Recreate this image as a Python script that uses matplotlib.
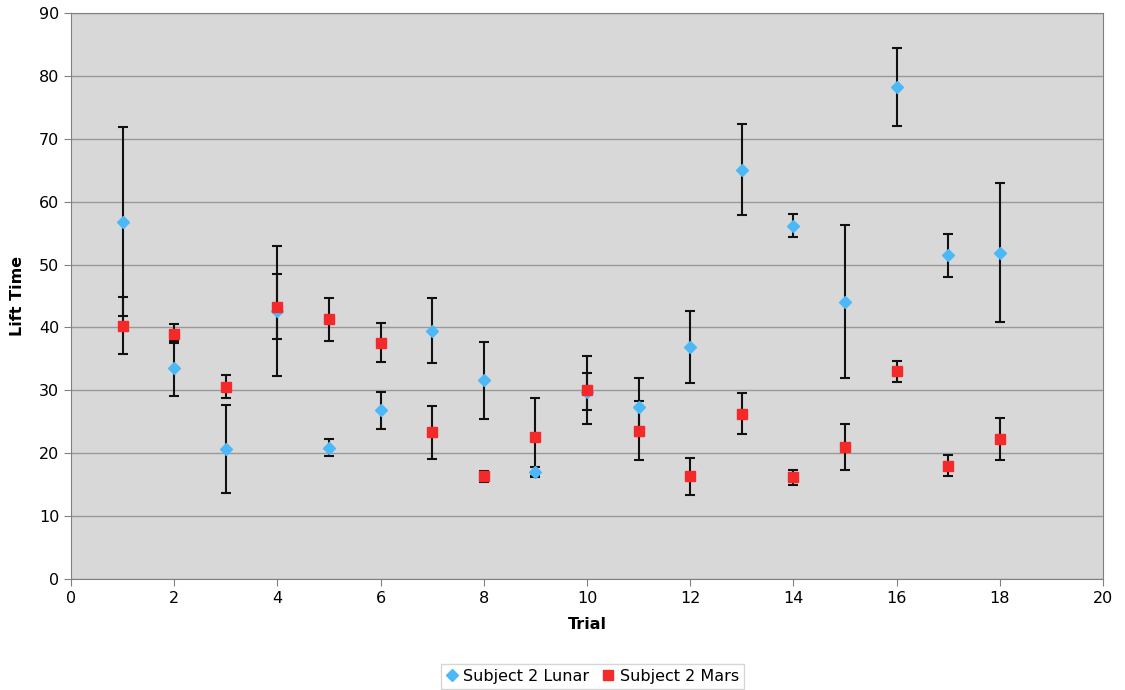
import numpy as np
import matplotlib
matplotlib.use("Agg")
import matplotlib.pyplot as plt

trials = list(range(1, 19))

lunar = [56.8, 33.5, 20.6, 42.6, 20.9, 26.8, 39.5, 31.6, 17.0,
         29.8, 27.4, 36.9, 65.1, 56.2, 44.1, 78.3, 51.5, 51.9]
lunar_err = [15.0, 4.4, 7.0, 10.3, 1.4, 2.9, 5.2, 6.1, 0.8,
             2.9, 4.6, 5.7, 7.2, 1.8, 12.2, 6.2, 3.4, 11.0]

mars = [40.3, 39.0, 30.6, 43.3, 41.3, 37.6, 23.3, 16.3, 22.6,
        30.0, 23.6, 16.3, 26.3, 16.2, 21.0, 33.0, 18.0, 22.3]
mars_err = [4.5, 1.5, 1.8, 5.2, 3.4, 3.1, 4.2, 0.8, 6.2,
            5.4, 4.7, 3.0, 3.3, 1.2, 3.7, 1.6, 1.7, 3.3]

plt.rcParams['font.family'] = ['DejaVu Sans']

fig = plt.figure(figsize=(11.25, 6.9), dpi=100)
ax = fig.add_axes([71 / 1125, 1 - 579 / 690, 1032 / 1125, 566 / 690])
ax.set_facecolor("#d8d8d8")

# error bars first, markers on top
for y, e in [(lunar, lunar_err), (mars, mars_err)]:
    ax.errorbar(trials, y, yerr=e, fmt="none", ecolor="#111111",
                elinewidth=1.5, capsize=3.8, capthick=1.5, zorder=3)

ax.plot(trials, lunar, linestyle="none", marker="D", markersize=6,
        color="#4db8f8", label="Subject 2 Lunar", zorder=4)
ax.plot(trials, mars, linestyle="none", marker="s", markersize=7.5,
        color="#f42a2a", label="Subject 2 Mars", zorder=4)

ax.set_xlim(0, 20)
ax.set_ylim(0, 90)
ax.set_xticks(np.arange(0, 21, 2))
ax.set_yticks(np.arange(0, 91, 10))
ax.yaxis.grid(True, color="#999999", linewidth=1.0)
ax.set_axisbelow(True)
ax.tick_params(labelsize=11.5, length=5, color="#808080")
for s in ax.spines.values():
    s.set_color("#808080")

ax.set_xlabel("Trial", fontsize=11.5, fontweight="bold", labelpad=8)
ax.set_ylabel("Lift Time", fontsize=11.5, fontweight="bold", labelpad=10)

ax.legend(loc="upper center", bbox_to_anchor=(0.505, -0.136), ncol=2,
          frameon=True, fancybox=False, edgecolor="#cccccc",
          fontsize=11.5, handletextpad=0.3, columnspacing=0.8,
          handlelength=0.8, borderpad=0.3)

fig.savefig("out.png", dpi=100, facecolor="white")
